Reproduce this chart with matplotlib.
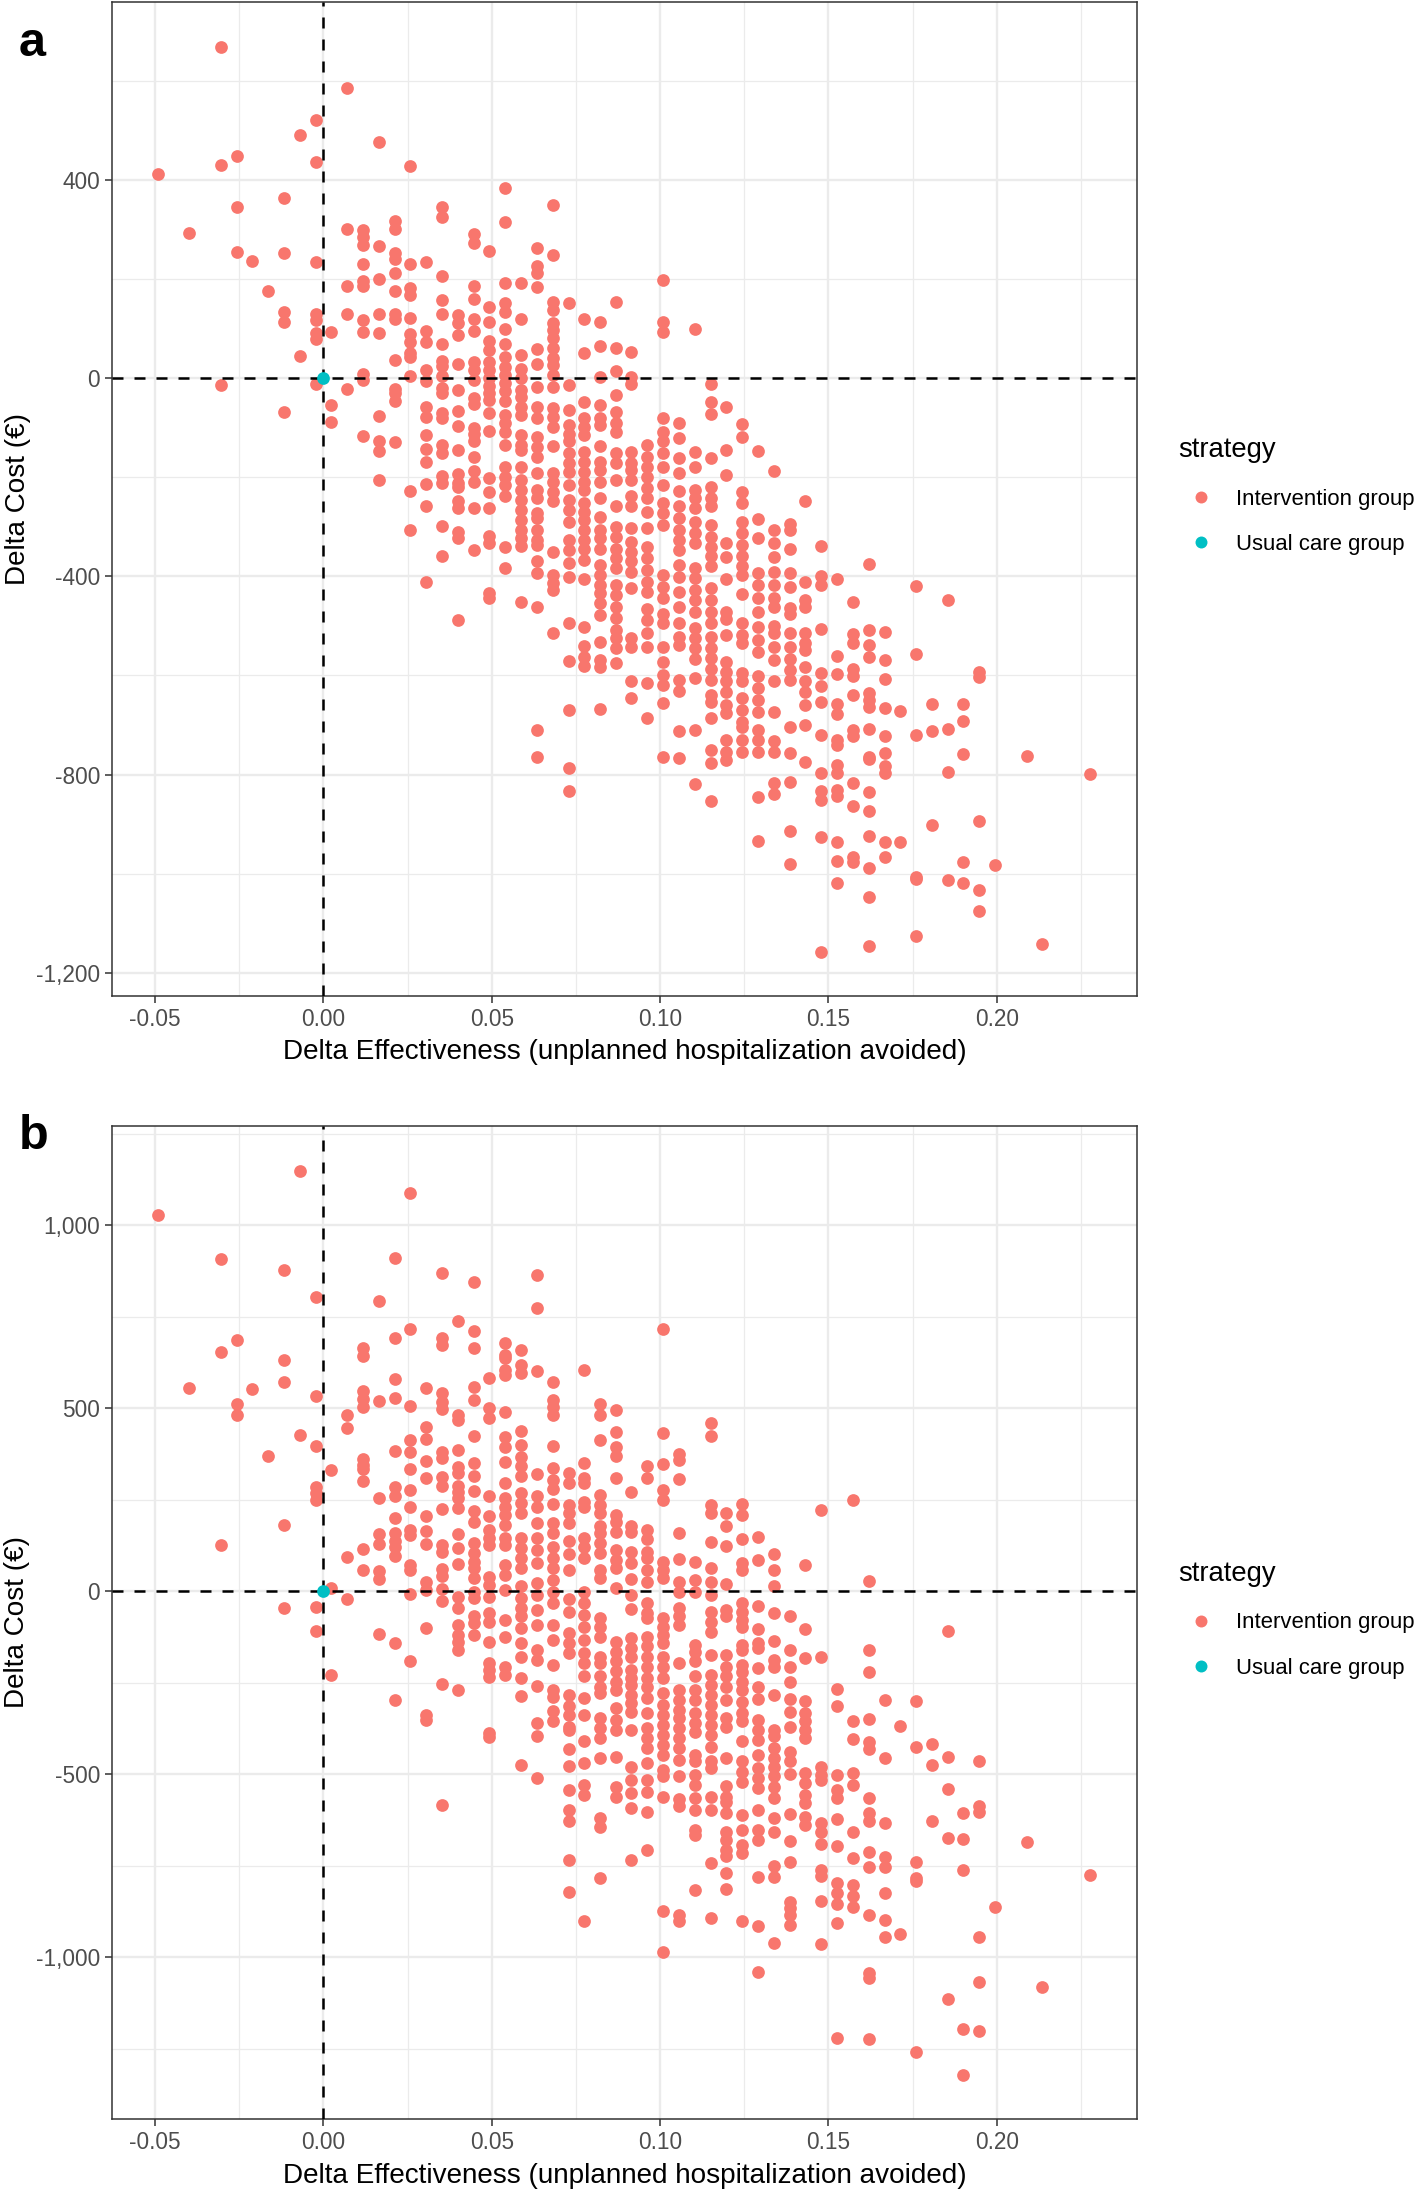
import matplotlib
matplotlib.use("Agg")
import matplotlib.pyplot as plt
from matplotlib.lines import Line2D

plt.rcParams["font.family"] = ["Liberation Sans", "DejaVu Sans"]

# one x value per vertical stack of points, shared by both panels
effectiveness = [
    -0.0493, -0.0399, -0.0305, -0.0258, -0.0211, -0.0164, -0.0117, -0.0070, -0.0023,
    0.0023, 0.0070, 0.0117, 0.0164, 0.0211, 0.0258, 0.0305, 0.0352, 0.0399, 0.0446, 0.0493,
    0.0540, 0.0587, 0.0634, 0.0681, 0.0728, 0.0775, 0.0822, 0.0868, 0.0915, 0.0962,
    0.1009, 0.1056, 0.1103, 0.1150, 0.1197, 0.1244, 0.1291, 0.1338, 0.1385, 0.1432,
    0.1479, 0.1526, 0.1573, 0.1620, 0.1667, 0.1713, 0.1760, 0.1807, 0.1854, 0.1901,
    0.1948, 0.1995, 0.2089, 0.2136, 0.2277,
]

cost_a = [
    [412],
    [293],
    [668, 430, -14],
    [448, 345, 254],
    [237],
    [176],
    [363, 252, 133, 112, -68],
    [491, 44],
    [521, 436, 234, 130, 116, 91, 78, -12],
    [93, -54, -89],
    [584, 301, 186, 130, -23],
    [298, 285, 268, 230, 196, 186, 117, 93, 9, -5, -116],
    [477, 266, 199, 129, 91, -77, -128, -147, -205],
    [317, 300, 253, 240, 212, 175, 129, 118, 37, -23, -30, -47, -130],
    [428, 229, 181, 167, 121, 88, 73, 51, 43, 4, -227, -307],
    [233, 95, 72, 17, -7, -59, -79, -114, -144, -170, -214, -258, -411],
    [345, 325, 206, 157, 130, 68, 35, 24, 4, -21, -30, -71, -81, -135, -152, -198, -212, -298, -359],
    [127, 110, 87, 28, -24, -66, -97, -145, -194, -212, -220, -249, -263, -310, -323, -489],
    [290, 272, 185, 160, 120, 95, 33, 16, -4, -41, -52, -101, -112, -128, -160, -187, -209, -263, -347],
    [257, 143, 112, 75, 57, 33, 16, 1, -17, -31, -44, -71, -107, -202, -229, -263, -319, -332, -434, -444],
    [384, 314, 192, 151, 134, 98, 68, 43, 23, 6, -11, -27, -46, -75, -91, -108, -135, -179, -199, -216, -239, -340, -384],
    [192, 120, 46, 19, 1, -24, -38, -58, -75, -115, -135, -145, -179, -206, -226, -246, -266, -286, -307, -323, -339, -451],
    [263, 225, 212, 183, 58, 28, -19, -58, -81, -118, -139, -160, -192, -225, -243, -273, -283, -307, -327, -337, -370, -394, -461, -709, -764],
    [348, 248, 154, 137, 110, 97, 80, 60, 40, 26, 6, -19, -61, -78, -98, -137, -192, -209, -229, -249, -350, -397, -414, -428, -515],
    [151, -14, -65, -95, -112, -128, -152, -172, -189, -216, -246, -266, -290, -327, -347, -374, -401, -495, -570, -670, -786, -834],
    [120, 51, -48, -81, -98, -114, -149, -169, -189, -209, -226, -253, -270, -286, -307, -327, -344, -367, -406, -502, -540, -562, -581],
    [112, 65, 3, -54, -81, -95, -137, -169, -185, -209, -243, -280, -307, -323, -344, -377, -397, -417, -434, -454, -478, -532, -569, -582, -668],
    [154, 60, 15, -35, -68, -91, -108, -152, -172, -206, -258, -300, -320, -344, -364, -384, -417, -438, -461, -485, -508, -525, -545, -575],
    [53, 3, -12, -149, -172, -185, -206, -239, -259, -303, -330, -350, -370, -391, -424, -525, -542, -612, -646],
    [-135, -159, -179, -199, -222, -243, -270, -303, -340, -364, -387, -411, -432, -465, -488, -515, -542, -616, -685],
    [198, 112, 93, -81, -108, -128, -152, -179, -216, -253, -273, -297, -397, -421, -444, -475, -495, -542, -572, -599, -619, -656, -765],
    [-91, -122, -162, -191, -227, -259, -283, -307, -327, -347, -377, -401, -431, -461, -495, -522, -539, -609, -631, -712, -766],
    [98, -149, -179, -226, -243, -263, -290, -313, -333, -384, -404, -428, -448, -471, -505, -525, -545, -567, -606, -710, -819],
    [-12, -48, -73, -162, -220, -243, -259, -297, -320, -340, -360, -380, -424, -448, -471, -495, -522, -545, -565, -586, -609, -639, -653, -685, -751, -777, -854],
    [-59, -145, -195, -333, -362, -405, -471, -487, -518, -572, -592, -612, -633, -659, -676, -730, -754, -770],
    [-93, -120, -229, -253, -290, -313, -337, -360, -380, -397, -436, -495, -518, -535, -596, -612, -646, -670, -693, -703, -730, -754],
    [-148, -285, -323, -394, -417, -444, -471, -502, -529, -552, -602, -626, -649, -673, -710, -730, -754, -846, -934],
    [-187, -306, -332, -362, -391, -417, -444, -461, -501, -515, -542, -569, -612, -673, -733, -754, -816, -839],
    [-294, -306, -345, -394, -421, -464, -475, -515, -542, -567, -589, -609, -704, -757, -815, -913, -980],
    [-249, -412, -448, -461, -515, -535, -549, -582, -612, -633, -659, -700, -775],
    [-338, -399, -417, -506, -596, -622, -653, -720, -797, -834, -851, -926, -1157],
    [-405, -561, -597, -657, -678, -730, -740, -780, -796, -831, -843, -935, -975, -1019],
    [-452, -517, -535, -586, -602, -639, -710, -722, -817, -863, -967, -977],
    [-376, -508, -538, -562, -636, -649, -663, -708, -764, -769, -836, -873, -924, -988, -1047, -1145],
    [-513, -569, -607, -666, -722, -757, -782, -796, -936, -967],
    [-671, -936],
    [-420, -557, -721, -1006, -1011, -1125],
    [-657, -713, -902],
    [-448, -708, -794, -1012],
    [-657, -691, -759, -977, -1019],
    [-592, -604, -893, -1033, -1075],
    [-982],
    [-763],
    [-1141],
    [-799],
]

cost_b = [
    [1027],
    [555],
    [908, 655, 127],
    [686, 511, 482],
    [552],
    [370],
    [877, 633, 573, 182, -45],
    [1149, 428],
    [804, 533, 397, 286, 268, 249, -43, -110],
    [330, 8, -229],
    [481, 445, 93, -22],
    [664, 643, 548, 525, 502, 361, 345, 333, 300, 115, 58],
    [793, 521, 254, 156, 129, 56, 34, -118],
    [910, 693, 580, 527, 383, 286, 259, 200, 158, 136, 122, 95, -142, -298],
    [1089, 716, 505, 412, 381, 334, 277, 231, 167, 154, 72, 58, -8, -190],
    [555, 450, 415, 356, 310, 206, 164, 128, 26, 4, -101, -338, -352],
    [869, 691, 673, 541, 518, 497, 380, 363, 311, 288, 224, 127, 106, 60, 42, 5, -26, -254, -583],
    [739, 481, 468, 386, 340, 322, 288, 272, 254, 227, 157, 119, 74, -17, -46, -92, -119, -138, -160, -270],
    [846, 711, 664, 559, 523, 425, 350, 315, 275, 218, 188, 131, 104, 81, 63, 35, -1, -19, -69, -87, -119],
    [582, 500, 474, 261, 206, 168, 145, 127, 40, 17, -15, -60, -83, -138, -197, -215, -235, -388, -399],
    [678, 646, 637, 605, 591, 491, 421, 395, 352, 295, 254, 231, 208, 181, 145, 127, 72, 45, 3, -80, -124, -206, -229],
    [658, 618, 597, 438, 400, 368, 341, 315, 268, 240, 213, 145, 117, 90, 63, 13, -19, -46, -69, -101, -142, -179, -236, -285, -476],
    [864, 773, 603, 320, 259, 231, 186, 145, 113, 78, 22, -10, -51, -92, -160, -188, -258, -361, -397, -511],
    [573, 523, 504, 482, 397, 336, 304, 280, 239, 186, 160, 122, 90, 63, 31, -1, -33, -92, -133, -201, -270, -290, -326, -356],
    [322, 295, 236, 213, 186, 136, 102, 58, -22, -56, -115, -142, -169, -283, -315, -338, -370, -379, -432, -477, -543, -599, -627, -734, -822],
    [605, 350, 309, 295, 245, 231, 145, 122, 90, -1, -33, -65, -97, -133, -169, -197, -233, -292, -338, -408, -470, -529, -557, -900],
    [512, 482, 413, 263, 236, 213, 177, 160, 131, 104, 57, 35, -74, -97, -124, -179, -197, -233, -261, -279, -347, -374, -402, -456, -620, -643, -783],
    [495, 434, 393, 370, 309, 208, 190, 163, 113, 85, 63, 8, -138, -165, -192, -219, -247, -270, -320, -352, -379, -454, -534, -561],
    [272, 177, 163, 108, 76, 33, -10, -49, -128, -156, -179, -215, -238, -256, -283, -306, -329, -379, -481, -516, -552, -593, -734],
    [341, 309, 168, 142, 108, 90, 58, 24, -33, -60, -74, -124, -151, -179, -206, -238, -261, -292, -332, -374, -402, -429, -470, -516, -548, -604, -706],
    [717, 432, 348, 277, 249, 81, 58, 35, -74, -97, -119, -142, -179, -206, -238, -279, -311, -338, -365, -392, -420, -447, -488, -506, -563, -873, -985],
    [375, 359, 307, 158, 87, 26, -1, -46, -69, -92, -195, -270, -297, -324, -347, -374, -402, -429, -461, -506, -568, -588, -884, -902],
    [81, 31, -1, -147, -165, -192, -233, -270, -297, -333, -361, -384, -447, -465, -502, -529, -566, -598, -652, -666, -816],
    [459, 423, 236, 213, 134, 63, 26, -10, -56, -83, -112, -174, -229, -256, -283, -311, -338, -365, -392, -425, -465, -484, -561, -598, -743, -894],
    [213, 179, 124, 20, -51, -69, -174, -206, -233, -261, -297, -347, -372, -456, -532, -561, -575, -607, -657, -680, -707, -723, -771, -813],
    [239, 207, 143, 76, 58, -33, -56, -78, -97, -147, -160, -201, -220, -247, -270, -302, -333, -356, -408, -465, -493, -520, -611, -652, -693, -714, -900],
    [147, 84, -40, -104, -142, -156, -211, -261, -294, -352, -379, -406, -447, -484, -511, -538, -599, -652, -680, -780, -916, -1040],
    [102, 58, 14, -60, -135, -188, -208, -283, -379, -397, -429, -456, -479, -506, -534, -566, -620, -659, -750, -780, -960],
    [-67, -160, -206, -249, -295, -329, -370, -438, -465, -499, -608, -682, -739, -848, -866, -884, -912],
    [72, -104, -183, -299, -332, -356, -379, -402, -497, -525, -557, -578, -616, -639],
    [222, -179, -479, -502, -517, -634, -657, -690, -763, -778, -847, -964],
    [-267, -313, -502, -543, -566, -622, -695, -798, -825, -855, -907, -1220],
    [249, -356, -404, -497, -529, -658, -728, -802, -832, -862],
    [28, -160, -221, -349, -411, -432, -566, -607, -627, -712, -754, -884, -1044, -1057, -1223],
    [-297, -455, -634, -727, -754, -826, -898, -944],
    [-368, -936],
    [-300, -425, -741, -784, -793, -1258],
    [-417, -476, -627],
    [-110, -454, -541, -675, -1115],
    [-605, -676, -763, -1195, -1321],
    [-465, -586, -604, -945, -1069, -1203],
    [-864],
    [-685],
    [-1082],
    [-776],
]

x_ticks = [-0.05, 0.00, 0.05, 0.10, 0.15, 0.20]
x_minor = [-0.025, 0.025, 0.075, 0.125, 0.175, 0.225]
x_labels = ["-0.05", "0.00", "0.05", "0.10", "0.15", "0.20"]

y_ticks_a = [400, 0, -400, -800, -1200]
y_minor_a = [600, 200, -200, -600, -1000]
y_labels_a = ["400", "0", "-400", "-800", "-1,200"]

y_ticks_b = [1000, 500, 0, -500, -1000]
y_minor_b = [1250, 750, 250, -250, -750, -1250]
y_labels_b = ["1,000", "500", "0", "-500", "-1,000"]

strategies = ["Intervention group", "Usual care group"]
RED = "#F8766D"
TEAL = "#00BFC4"
GRID = "#EBEBEB"
W, H = 1416, 2191


def panel_axes(fig, top, bottom):
    left, right = 112.3, 1136.7
    return fig.add_axes([left / W, 1 - bottom / H, (right - left) / W, (bottom - top) / H])


def draw_panel(ax, costs, ylim, yticks, yminor, ylabels):
    ax.set_xlim(-0.06274, 0.2416)
    ax.set_ylim(*ylim)
    ax.set_axisbelow(True)
    ax.set_xticks(x_ticks, x_labels)
    ax.set_xticks(x_minor, minor=True)
    ax.set_yticks(yticks, ylabels)
    ax.set_yticks(yminor, minor=True)
    ax.grid(True, which="major", color=GRID, linewidth=1.7)
    ax.grid(True, which="minor", color=GRID, linewidth=0.9)
    ax.tick_params(which="minor", length=0)
    ax.tick_params(which="major", length=5.2, width=1.1, color="#333333",
                   labelcolor="#4D4D4D", labelsize=16.3, pad=3.5)
    for spine in ax.spines.values():
        spine.set_color("#333333")
        spine.set_linewidth(1.1)

    for x, ys in zip(effectiveness, costs):
        ax.scatter([x] * len(ys), ys, s=84, color=RED, linewidths=0, zorder=2)
    ax.axhline(0, color="black", linestyle=(0, (4.4, 4.4)), linewidth=1.8, zorder=3)
    ax.axvline(0, color="black", linestyle=(0, (4.4, 4.4)), linewidth=1.8, zorder=3)
    ax.scatter([0], [0], s=84, color=TEAL, linewidths=0, zorder=4)

    ax.set_xlabel("Delta Effectiveness (unplanned hospitalization avoided)", fontsize=20.1, labelpad=6)
    ax.set_ylabel("Delta Cost (€)", fontsize=20.1, labelpad=4)

    handles = [
        Line2D([], [], linestyle="", marker="o", markersize=8.6, color=RED, markeredgewidth=0),
        Line2D([], [], linestyle="", marker="o", markersize=8.6, color=TEAL, markeredgewidth=0),
    ]
    leg = ax.legend(handles, strategies, title="strategy", loc="center left",
                    bbox_to_anchor=(1.041, 0.5027), frameon=False, fontsize=15.9,
                    title_fontsize=19.8, alignment="left", labelspacing=1.1,
                    handletextpad=0.6, borderpad=0, borderaxespad=0)
    leg.get_title().set_color("black")
    leg._legend_box.sep += 0.6


fig = plt.figure(figsize=(W / 100, H / 100), dpi=100, facecolor="white")

ax_a = panel_axes(fig, 1.7, 996)
draw_panel(ax_a, cost_a, (-1246.5, 759), y_ticks_a, y_minor_a, y_labels_a)

ax_b = panel_axes(fig, 1125.7, 2119.3)
draw_panel(ax_b, cost_b, (-1443, 1272), y_ticks_b, y_minor_b, y_labels_b)

fig.text(19 / W, 1 - 56 / H, "a", fontsize=35, fontweight="bold", color="black")
fig.text(19 / W, 1 - 1149 / H, "b", fontsize=35, fontweight="bold", color="black")

fig.savefig("out.png", dpi=100)
plt.close(fig)
